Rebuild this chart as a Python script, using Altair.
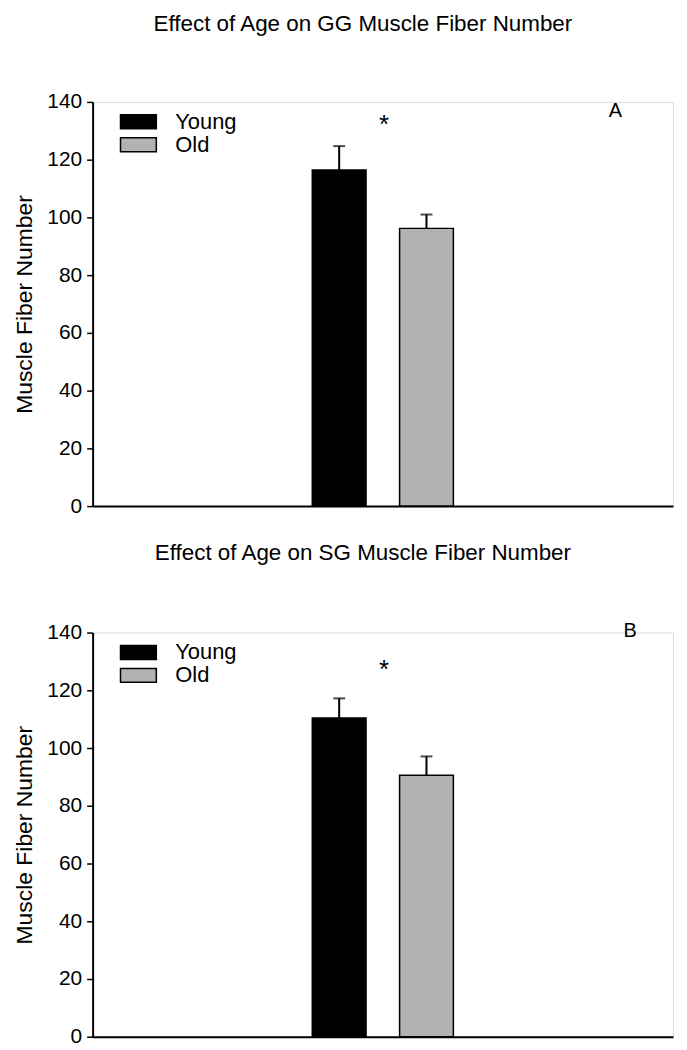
import altair as alt
import pandas as pd

# ---- data ----
categories = ["Young", "Old"]
bar_colors = ["#000000", "#b2b2b2"]
gg_mean = [116.4, 96.2]
gg_sem = [8.3, 4.8]
sg_mean = [110.4, 90.6]
sg_sem = [6.8, 6.5]
star_level = [133, 128]          # height of the significance star (axis units)
titles = ["Effect of Age on GG Muscle Fiber Number",
          "Effect of Age on SG Muscle Fiber Number"]
panel_labels = ["A", "B"]
y_ticks = [0, 20, 40, 60, 80, 100, 120, 140]

# empty slots on both sides of the two bars (the original plot leaves them blank)
x_slots = ["_e1", "_e2"] + categories + ["_e3", "_e4"]

FONT = "Liberation Sans"
W, H = 583, 406


def panel(means, sems, star, title, label, label_xy):
    df = pd.DataFrame({"group": categories, "mean": means, "sem": sems})
    df["upper"] = df["mean"] + df["sem"]

    x = alt.X("group:N",
              scale=alt.Scale(domain=x_slots, paddingInner=0.384, paddingOuter=0.516),
              axis=alt.Axis(labels=False, ticks=False, title=None,
                            domainColor="black", domainWidth=2))
    yscale = alt.Scale(domain=[0, 140], nice=False, zero=True)

    base = alt.Chart(df)
    bars = base.mark_bar(stroke="black", strokeWidth=1.5).encode(
        x=x,
        y=alt.Y("mean:Q", scale=yscale,
                axis=alt.Axis(values=y_ticks, title="Muscle Fiber Number", grid=False,
                              domainColor="black", domainWidth=2,
                              tickColor="black", tickWidth=1.5, tickSize=6,
                              labelFontSize=21, labelColor="black", labelPadding=5,
                              labelFont=FONT, titleFont=FONT,
                              titleFontSize=23, titleFontWeight="normal",
                              titleColor="black", titlePadding=10)),
        fill=alt.Fill("group:N",
                      scale=alt.Scale(domain=categories, range=bar_colors),
                      legend=alt.Legend(title=None, orient="none",
                                        legendX=35, legendY=9,
                                        symbolType="M-2.57,-1H2.57V1H-2.57Z",
                                        symbolSize=196,
                                        symbolStrokeColor="black",
                                        symbolStrokeWidth=1.5,
                                        symbolOpacity=1,
                                        labelFont=FONT, labelFontSize=22,
                                        labelColor="black", labelOffset=26,
                                        rowPadding=1)),
    )
    err = base.mark_rule(color="black", strokeWidth=2).encode(
        x="group:N", y="mean:Q", y2="upper:Q")
    cap = base.mark_tick(color="black", thickness=2, size=12).encode(
        x="group:N", y="upper:Q")

    star_df = pd.DataFrame({"group": [categories[0]], "level": [star]})
    star_mark = alt.Chart(star_df).mark_text(
        text="*", font=FONT, fontSize=26, dx=45, dy=3, baseline="middle", color="black"
    ).encode(x="group:N", y="level:Q")

    lab_df = pd.DataFrame({"t": [label]})
    lab = alt.Chart(lab_df).mark_text(
        font=FONT, fontSize=20, baseline="middle", align="center", color="black"
    ).encode(text="t:N", x=alt.value(label_xy[0]), y=alt.value(label_xy[1]))

    return alt.layer(bars, err, cap, star_mark, lab).properties(
        width=W, height=H,
        title=alt.TitleParams(title, font=FONT, fontSize=22.5, fontWeight="normal",
                              color="black", anchor="middle", dx=-20,
                              baseline="alphabetic", offset=38),
    )


pA = panel(gg_mean, gg_sem, star_level[0], titles[0], panel_labels[0], (525, 9))
pB = panel(sg_mean, sg_sem, star_level[1], titles[1], panel_labels[1], (540, -2))

chart = alt.vconcat(pA, pB, spacing=25).resolve_scale(fill="independent").resolve_legend(
    fill="independent"
).properties(
    padding={"left": 5, "top": 2, "right": 5, "bottom": 5}
).configure_view(stroke=None).configure(font=FONT)

chart.save("out.html", embed_options={"renderer": "svg", "actions": False})
